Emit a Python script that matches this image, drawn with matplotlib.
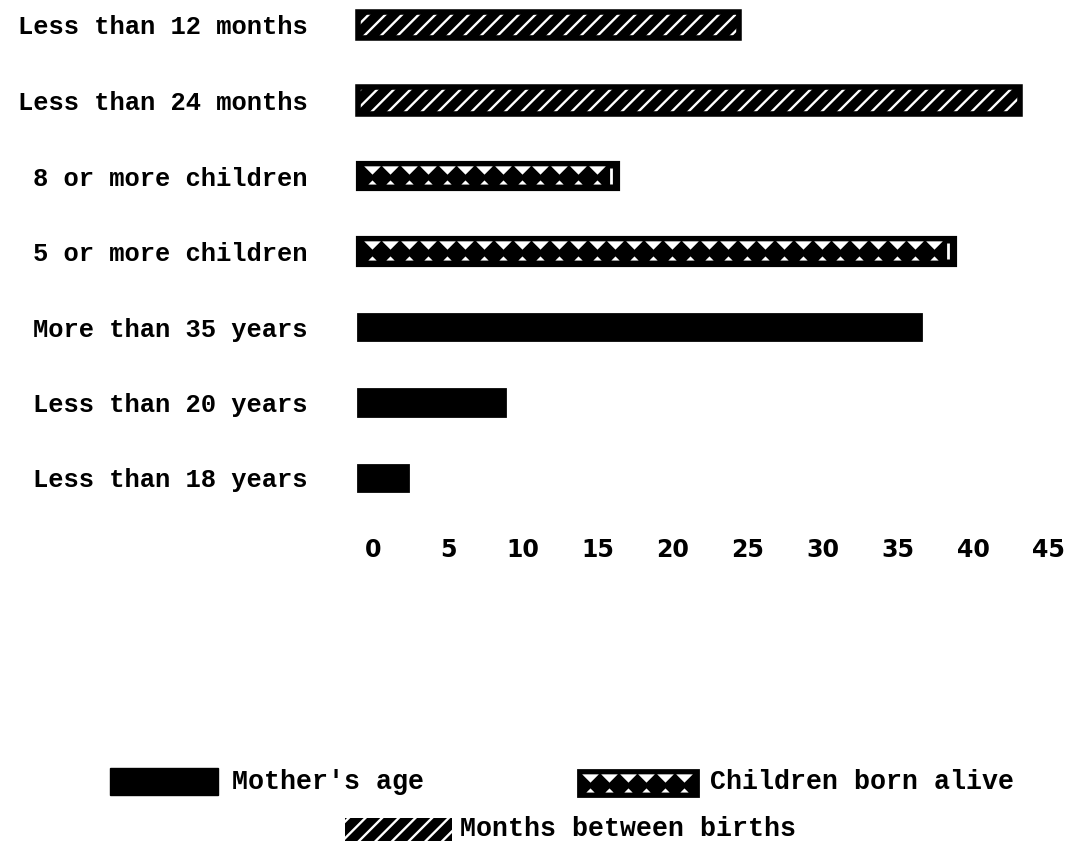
import numpy as np
import matplotlib
matplotlib.use("Agg")
import matplotlib.pyplot as plt
from matplotlib.patches import Rectangle
from matplotlib.path import Path
from matplotlib.transforms import ScaledTranslation

# values (bottom to top)
age_labels = ["Less than 18 years", "Less than 20 years", "More than 35 years"]
age_values = [3.3, 9.8, 37.5]
children_labels = ["5 or more children", "8 or more children"]
children_values = [39.8, 17.3]
months_labels = ["Less than 24 months", "Less than 12 months"]
months_values = [44.1, 25.4]
xticks = np.arange(0, 50, 5)

labels = age_labels + children_labels + months_labels
ypos = np.arange(len(labels))
h = 0.35

plt.rcParams['hatch.linewidth'] = 1.7
monofam = ['Liberation Mono', 'DejaVu Sans Mono']
txtfont = dict(family=monofam, weight='bold', size=18.4)
legfont = dict(family=monofam, weight='bold', size=19.2)

# wide flat triangles for the "children" pattern
tri_down = Path([(-1, 0.5), (1, 0.5), (0, -0.5), (-1, 0.5)], closed=True)
tri_up = Path([(-1, -0.5), (1, -0.5), (0, 0.5), (-1, -0.5)], closed=True)

fig = plt.figure(figsize=(10.7, 8.41), dpi=100)
ax = fig.add_axes([350.5 / 1070, 1 - 515.75 / 841, 705 / 1070, 513.4 / 841])

yi = 0
for v in age_values:
    ax.barh(yi, v, height=h, color='black', edgecolor='black', lw=2)
    yi += 1
for v in children_values:
    ax.barh(yi, v, height=h, color='black', edgecolor='black', lw=3)
    xs = np.arange(0.9, v - 0.6, 1.25)
    ax.plot(xs, np.full(len(xs), yi + 0.08), ls='none', marker=tri_down,
            ms=12, color='white', mew=0)
    ax.plot(xs, np.full(len(xs), yi - 0.085), ls='none', marker=tri_up,
            ms=6, color='white', mew=0)
    ax.vlines(v - 0.45, yi - 0.1, yi + 0.11, color='white', lw=2)
    yi += 1
for v in months_values:
    ax.barh(yi, v, height=h, color='black', edgecolor='white', hatch='//', lw=0)
    ax.barh(yi, v, height=h, fill=False, edgecolor='black', lw=4)
    yi += 1

ax.set_xlim(-0.5, 46.5)
ax.set_ylim(-0.5, 6.3)
ax.set_yticks(ypos, labels, **txtfont)
ax.set_xticks(xticks, [str(t) for t in xticks],
              family='DejaVu Sans', weight='heavy', size=17)
ax.tick_params(length=0)
ax.tick_params(axis='y', pad=31)
ax.tick_params(axis='x', pad=16)
off = ScaledTranslation(0.15, 0, fig.dpi_scale_trans)
for t in ax.get_xticklabels():
    t.set_transform(t.get_transform() + off)
for s in ax.spines.values():
    s.set_visible(False)

# legend drawn in pixel space of the whole figure
lg = fig.add_axes([0, 0, 1, 1])
lg.set_xlim(0, 1070)
lg.set_ylim(841, 0)
lg.axis('off')
lg.patch.set_alpha(0)

lg.add_patch(Rectangle((110, 768), 108, 27, color='black'))
lg.text(232, 782, "Mother's age", va='center', ha='left', **legfont)

lg.add_patch(Rectangle((578, 770), 120, 26, facecolor='black', edgecolor='black', lw=2))
lx = np.arange(590, 690, 18.75)
lg.plot(lx, np.full(len(lx), 778), ls='none', marker=tri_down, ms=12, color='white', mew=0)
lg.plot(lx, np.full(len(lx), 790), ls='none', marker=tri_up, ms=6, color='white', mew=0)
lg.text(710, 782, "Children born alive", va='center', ha='left', **legfont)

lg.add_patch(Rectangle((345, 818), 107, 24, facecolor='black', edgecolor='white', hatch='//', lw=0))
lg.text(460, 829, "Months between births", va='center', ha='left', **legfont)

fig.savefig("out.png", dpi=100)
